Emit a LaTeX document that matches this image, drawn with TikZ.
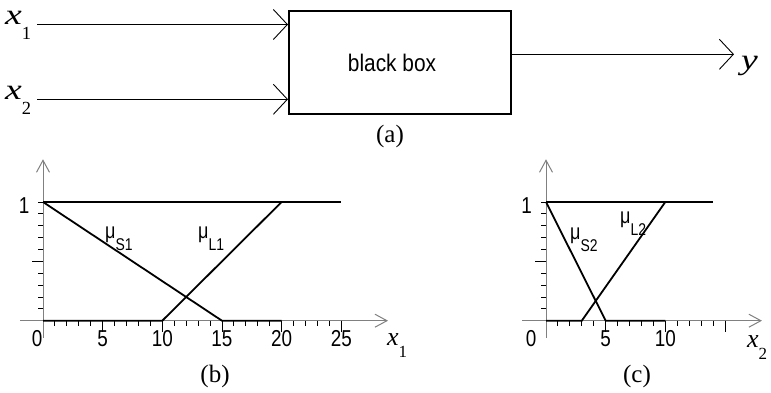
\documentclass[tikz,border=0pt]{standalone}
\usepackage{fontspec}
\setmainfont{Liberation Serif}
\newfontfamily\nsans[FakeStretch=0.82]{Liberation Sans}
\newfontfamily\bsans[FakeStretch=0.87]{Liberation Sans}
\newfontfamily\wideit[FakeStretch=1.3]{Liberation Serif}
\usetikzlibrary{arrows.meta}
\definecolor{axisgray}{HTML}{808080}
\tikzset{
  sig/.style={line width=0.9pt, -{Straight Barb[length=14pt,width=30pt]}},
  blk/.style={draw, line width=2pt, minimum width=222pt, minimum height=103pt, inner sep=0pt,
    font=\bsans\fontsize{24}{24}\selectfont},
  axisline/.style={draw=axisgray, line width=1pt},
  axarrow/.style={axisline, -{Straight Barb[length=12pt,width=13pt]}},
  mf/.style={line width=1.8pt, line join=miter},
  oneline/.style={line width=1.1pt},
  tickmark/.style={line width=0.9pt},
  num/.style={font=\nsans\fontsize{23}{23}\selectfont, inner sep=0pt, anchor=base},
  mulab/.style={inner sep=0pt, anchor=base west, font=\nsans\fontsize{22}{22}\selectfont},
  sublab/.style={inner sep=0pt, anchor=base west},
  panelcap/.style={inner sep=0pt, anchor=base, font=\fontsize{25}{25}\selectfont},
}
\newcommand{\bigx}[1]{{\wideit\itshape\fontsize{29}{29}\selectfont #1}}
\newcommand{\smallx}[1]{{\itshape\fontsize{26}{26}\selectfont #1}}
\newcommand{\mysub}[2]{\raisebox{-#1}{\fontsize{17}{17}\selectfont #2}}
\begin{document}
\begin{tikzpicture}[x=1pt,y=-1pt]
\useasboundingbox (0,0) rectangle (771,393);
% ---------- (a) ----------
\node[blk] (bb) at (400,62.5) {black box\hspace*{16pt}};
\node[sublab] (lx1) at (5,25) {\bigx{x}\raisebox{-14.3pt}{\fontsize{18.5}{18.5}\selectfont 1}};
\node[sublab] (lx2) at (5,100) {\bigx{x}\raisebox{-14.3pt}{\fontsize{18.5}{18.5}\selectfont 2}};
\node[sublab] (ly) at (741,70) {\bigx{y}};
\coordinate (s1) at (37,24.5);
\coordinate (s2) at (37,99.3);
\coordinate (yend) at (734,54.3);
\draw[sig] (s1) -- (bb.west |- s1);
\draw[sig] (s2) -- (bb.west |- s2);
\draw[sig] (bb.east |- yend) -- (yend);
\node[panelcap] (capa) at (390,142.5) {(a)};
% ---------- (b) ----------
\begin{scope}[shift={(43,320.7)}, x=11.93pt, y=118.7pt]
  \coordinate (ob) at (0,0);
  \draw[axarrow] (-1.93,0) -- (28.92,0);
  \draw[axarrow] (0,-0.143) -- (0,1.36);
  \foreach \i in {1,...,25} \draw[tickmark] (\i,0) -- ++(0,-5pt);
  \foreach \i in {5,10,...,25} \draw[tickmark] (\i,0) -- ++(0,-11.5pt);
  \foreach \j in {1,...,10} \draw[tickmark] (0,\j/10) -- ++(-5pt,0);
  \draw[tickmark] (0,0.5) -- ++(-11pt,0);
  \draw[oneline] (0,1) -- (25,1);
  \draw[mf] (0,1) -- (15,0) -- (20,0);
  \draw[mf] (0,0) -- (10,0) -- (20,1);
  \node[num] (b0) at ([xshift=-6pt,yshift=-26pt]0,0) {0};
  \foreach \i in {5,10,...,25} \node[num] (b\i) at ([yshift=-26pt]\i,0) {\i};
  \node[num, anchor=base east] (b1) at ([xshift=-13.5pt,yshift=-11pt]0,1) {1};
\end{scope}
\node[mulab] (muS1) at (105,238) {μ\mysub{12pt}{S1}};
\node[mulab] (muL1) at (198,238) {μ\mysub{12pt}{L1}};
\node[sublab] (bx1) at (387,345) {\smallx{x}\raisebox{-12.5pt}{\fontsize{17}{17}\selectfont 1}};
\node[panelcap] (capb) at (215,382) {(b)};
% ---------- (c) ----------
\begin{scope}[shift={(546,320.7)}, x=11.93pt, y=118.7pt]
  \coordinate (oc) at (0,0);
  \draw[axarrow] (-2,0) -- (18.1,0);
  \draw[axarrow] (0,-0.143) -- (0,1.36);
  \foreach \i in {1,...,15} \draw[tickmark] (\i,0) -- ++(0,-5pt);
  \foreach \i in {5,10,15} \draw[tickmark] (\i,0) -- ++(0,-11.5pt);
  \foreach \j in {1,...,10} \draw[tickmark] (0,\j/10) -- ++(-5pt,0);
  \draw[tickmark] (0,0.5) -- ++(-11pt,0);
  \draw[oneline] (0,1) -- (14,1);
  \draw[mf] (0,1) -- (5,0) -- (10,0);
  \draw[mf] (0,0) -- (3,0) -- (10,1);
  \node[num] (c0) at ([xshift=-15pt,yshift=-26pt]0,0) {0};
  \foreach \i in {5,10} \node[num] (c\i) at ([yshift=-26pt]\i,0) {\i};
  \node[num, anchor=base east] (c1) at ([xshift=-14pt,yshift=-11pt]0,1) {1};
\end{scope}
\node[mulab] (muS2) at (570,239) {μ\mysub{12pt}{S2}};
\node[mulab] (muL2) at (620,223) {μ\mysub{12pt}{L2}};
\node[sublab] (cx2) at (747,347) {\smallx{x}\raisebox{-12.5pt}{\fontsize{17}{17}\selectfont 2}};
\node[panelcap] (capc) at (637,382) {(c)};
\end{tikzpicture}
\end{document}
